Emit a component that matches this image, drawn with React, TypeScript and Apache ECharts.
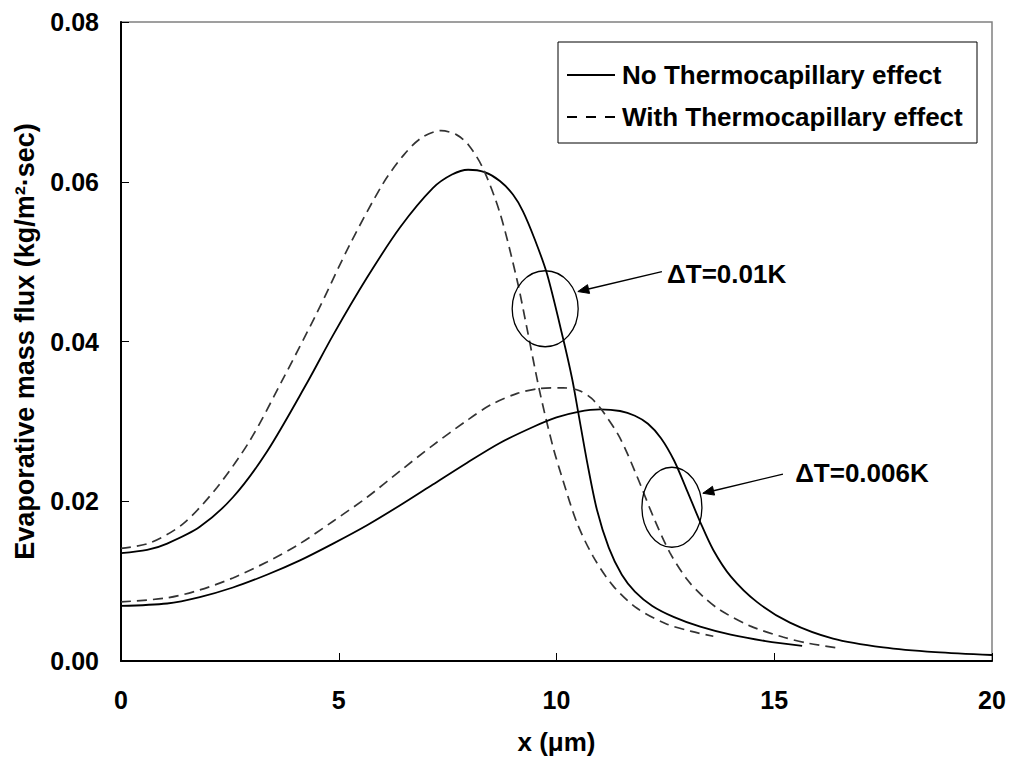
import React, { useEffect, useRef } from "react";
import * as echarts from "echarts";

// x (µm), evaporative mass flux (kg/m²·sec)
const noTC_dT001: [number, number][] = [
  [0, 0.0135], [0.6, 0.0139], [1.06, 0.0147], [1.81, 0.0168], [2.57, 0.0205], [3.35, 0.0262],
  [4.27, 0.0348], [4.87, 0.0408], [5.65, 0.048], [6.41, 0.0543], [7.16, 0.0592],
  [7.6, 0.0609], [7.97, 0.0615], [8.35, 0.0612], [8.7, 0.0601], [9.0, 0.0584], [9.23, 0.0563],
  [9.5, 0.0528], [9.78, 0.0485], [10.15, 0.0404], [10.36, 0.0353], [10.5, 0.0311],
  [10.7, 0.025], [10.93, 0.0189], [11.2, 0.0142], [11.5, 0.0108], [11.8, 0.0087],
  [12.2, 0.0069], [12.7, 0.0055], [13.3, 0.0043], [14.0, 0.0033], [14.8, 0.0025],
  [15.64, 0.0019],
];
const withTC_dT001: [number, number][] = [
  [0, 0.0141], [0.67, 0.0148], [1.43, 0.0172], [2.2, 0.0217], [2.96, 0.0276],
  [3.69, 0.035], [4.5, 0.0436], [5.26, 0.0522], [6.02, 0.0598], [6.5, 0.0634], [6.9, 0.0655],
  [7.35, 0.0664], [7.7, 0.0659], [7.98, 0.0646], [8.31, 0.0617], [8.7, 0.0561], [9.09, 0.0478],
  [9.32, 0.0417], [9.62, 0.0336], [9.92, 0.0268], [10.15, 0.0226], [10.47, 0.0173],
  [10.84, 0.0131], [11.3, 0.0094], [11.85, 0.0066], [12.5, 0.0047], [13.1, 0.0037],
  [13.6, 0.0031],
];
const noTC_dT0006: [number, number][] = [
  [0, 0.0069], [1.06, 0.0072], [1.81, 0.008], [2.57, 0.0092], [3.35, 0.0108],
  [4.11, 0.0126], [4.87, 0.0147], [5.65, 0.017], [6.41, 0.0195], [7.16, 0.0221],
  [7.94, 0.0248], [8.7, 0.0273], [9.46, 0.0293], [10.0, 0.0305], [10.5, 0.0312],
  [11.0, 0.0315], [11.46, 0.0313], [11.8, 0.0307], [12.1, 0.0297], [12.4, 0.0279],
  [12.7, 0.0251], [13.0, 0.0213], [13.3, 0.0174], [13.6, 0.0139], [14.0, 0.0106],
  [14.6, 0.0074], [15.36, 0.0048], [16.35, 0.0028], [17.5, 0.0017], [18.7, 0.0011],
  [20, 0.00075],
];
const withTC_dT0006: [number, number][] = [
  [0, 0.0074], [1.06, 0.0079], [1.81, 0.0089], [2.57, 0.0104], [3.35, 0.0124],
  [4.11, 0.0147], [4.87, 0.0175], [5.65, 0.0205], [6.41, 0.0238], [7.16, 0.027],
  [7.94, 0.0301], [8.5, 0.0321], [9.1, 0.0335], [9.6, 0.0341], [10.15, 0.0342],
  [10.5, 0.0339], [10.8, 0.0329], [11.07, 0.0312], [11.46, 0.0279], [11.85, 0.0231],
  [12.22, 0.0181], [12.6, 0.0136], [13.0, 0.0102], [13.36, 0.0081], [13.75, 0.0064],
  [14.44, 0.0044], [15.2, 0.003], [15.8, 0.0022], [16.51, 0.0016],
];

const legendLabels = ["No Thermocapillary effect", "With Thermocapillary effect"];

// annotations in data units: ellipse centre, arrow start, arrow end, label anchor
const annotations = [
  { text: "ΔT=0.01K", centre: [9.74, 0.0441], from: [12.42, 0.04875], to: [10.49, 0.04625], label: [12.54, 0.0485], rx: 33, ry: 38 },
  { text: "ΔT=0.006K", centre: [12.65, 0.01925], from: [15.2, 0.0234], to: [13.36, 0.021], label: [15.48, 0.0235], rx: 30, ry: 40 },
];

const FONT = "'Liberation Sans', Arial, Helvetica, sans-serif";

export default function App() {
  const ref = useRef<HTMLDivElement>(null);
  useEffect(() => {
    if (!ref.current) return;
    const chart = echarts.init(ref.current, null, { renderer: "svg" });
    const solid = { color: "#000", width: 1.8, type: "solid" as const };
    const dashed = { color: "#333", width: 1.7, type: [10, 6] as any };
    const mk = (name: string, data: [number, number][], ls: any) => ({
      name,
      type: "line",
      data,
      smooth: 0.3,
      showSymbol: false,
      symbol: "none",
      lineStyle: ls,
      itemStyle: { color: ls.color },
      z: 3,
    });
    chart.setOption({
      animation: false,
      backgroundColor: "#fff",
      grid: { left: 121, right: 20, top: 22, bottom: 101, show: true, borderColor: "#808080", borderWidth: 1.5 },
      xAxis: {
        type: "value",
        min: 0,
        max: 20,
        interval: 5,
        name: "x (μm)",
        nameLocation: "middle",
        nameGap: 68,
        nameTextStyle: { fontFamily: FONT, fontWeight: "bold", fontSize: 26, color: "#000" },
        axisLine: { show: true, onZero: false, lineStyle: { color: "#000", width: 2 } },
        axisTick: { show: true, inside: true, length: 8, lineStyle: { color: "#000", width: 1 } },
        axisLabel: { margin: 26, fontFamily: FONT, fontWeight: "bold", fontSize: 25, color: "#000" },
        splitLine: { show: false },
      },
      yAxis: {
        type: "value",
        min: 0,
        max: 0.08,
        interval: 0.02,
        name: "Evaporative mass flux (kg/m²·sec)",
        nameLocation: "middle",
        nameGap: 83,
        nameTextStyle: { fontFamily: FONT, fontWeight: "bold", fontSize: 27, color: "#000" },
        axisLine: { show: true, onZero: false, lineStyle: { color: "#000", width: 2 } },
        axisTick: { show: true, inside: true, length: 8, lineStyle: { color: "#000", width: 1 } },
        axisLabel: {
          margin: 22,
          fontFamily: FONT,
          fontWeight: "bold",
          fontSize: 25,
          color: "#000",
          formatter: (v: number) => v.toFixed(2),
        },
        splitLine: { show: false },
      },
      series: [
        mk("noTC_0.01", noTC_dT001, solid),
        mk("withTC_0.01", withTC_dT001, dashed),
        mk("noTC_0.006", noTC_dT0006, solid),
        mk("withTC_0.006", withTC_dT0006, dashed),
      ],
    });

    const px = (p: number[]) => chart.convertToPixel({ gridIndex: 0 }, p) as number[];
    const elements: any[] = [];
    elements.push({
      type: "rect",
      shape: { x: 558, y: 42, width: 419, height: 101 },
      style: { fill: "#fff", stroke: "#000", lineWidth: 1 },
      z: 10,
    });
    elements.push({
      type: "line",
      shape: { x1: 567, y1: 75, x2: 615, y2: 75 },
      style: { stroke: "#000", lineWidth: 1.8 },
      z: 11,
    });
    elements.push({
      type: "line",
      shape: { x1: 567, y1: 117, x2: 615, y2: 117 },
      style: { stroke: "#000", lineWidth: 1.8, lineDash: [10, 9] },
      z: 11,
    });
    legendLabels.forEach((t, i) => {
      elements.push({
        type: "text",
        x: 622,
        y: i === 0 ? 75 : 117,
        style: { text: t, fill: "#000", font: `bold 26px ${FONT}`, verticalAlign: "middle", align: "left" },
        z: 11,
      });
    });
    annotations.forEach((a) => {
      const c = px(a.centre);
      const f = px(a.from);
      const t = px(a.to);
      const l = px(a.label);
      elements.push({
        type: "ellipse",
        shape: { cx: c[0], cy: c[1], rx: a.rx, ry: a.ry },
        style: { fill: "none", stroke: "#000", lineWidth: 1.3 },
        z: 10,
      });
      const dx = t[0] - f[0];
      const dy = t[1] - f[1];
      const len = Math.sqrt(dx * dx + dy * dy);
      const ux = dx / len;
      const uy = dy / len;
      const hl = 11;
      const hw = 4.5;
      const bx = t[0] - ux * hl;
      const by = t[1] - uy * hl;
      elements.push({
        type: "line",
        shape: { x1: f[0], y1: f[1], x2: bx, y2: by },
        style: { stroke: "#000", lineWidth: 1.4 },
        z: 10,
      });
      elements.push({
        type: "polygon",
        shape: {
          points: [
            [t[0], t[1]],
            [bx - uy * hw, by + ux * hw],
            [bx + uy * hw, by - ux * hw],
          ],
        },
        style: { fill: "#000", stroke: "#000", lineWidth: 1 },
        z: 10,
      });
      elements.push({
        type: "text",
        x: l[0],
        y: l[1],
        style: { text: a.text, fill: "#000", font: `bold 26px ${FONT}`, verticalAlign: "middle", align: "left" },
        z: 10,
      });
    });
    chart.setOption({ graphic: { elements } });
    return () => chart.dispose();
  }, []);
  return <div ref={ref} style={{ position: "absolute", left: 0, top: 0, width: 1012, height: 762 }} />;
}
